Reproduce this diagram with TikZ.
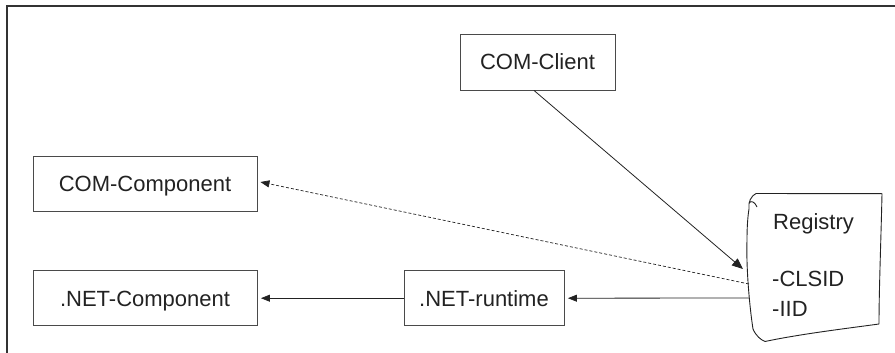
\documentclass[tikz,border=0pt]{standalone}
\usepackage{fontspec}
\setmainfont{Liberation Sans}
\usetikzlibrary{arrows.meta}
\definecolor{edge}{HTML}{4A4A4A}
\definecolor{ink}{HTML}{222222}
\tikzset{
  compbox/.style={draw=edge, line width=0.9pt, rectangle, inner sep=0pt,
    text=ink, font=\fontsize{22}{26}\selectfont, text height=15.8pt, text depth=0pt},
  regtext/.style={text=ink, font=\fontsize{22}{26}\selectfont, inner sep=0pt, anchor=base west},
  conn/.style={draw=ink, line width=0.8pt, -{Triangle[length=9pt,width=7pt]}},
  bigconn/.style={draw=ink, line width=0.8pt, -{Triangle[length=11pt,width=9pt]}},
  dashconn/.style={conn, dash pattern=on 3pt off 2pt, line width=0.7pt},
  frameline/.style={draw=black!80, line width=1.2pt},
  regline/.style={draw=ink, line width=0.9pt, line join=round}
}
\begin{document}
\begin{tikzpicture}[x=1pt,y=-1pt]
\useasboundingbox (0,0) rectangle (895,353);
% frame
\coordinate (ftr) at (895,6);
\coordinate (ftl) at (7,6);
\coordinate (fbl) at (7,353);
\draw[frameline] (ftr) -- (ftl) -- (fbl);
% boxes
\node[compbox, minimum width=155pt, minimum height=56pt] (client) at (537.5,62) {COM-Client};
\node[compbox, minimum width=224pt, minimum height=55pt] (comcomp) at (145,184) {COM-Component};
\node[compbox, minimum width=224pt, minimum height=55pt] (netcomp) at (145,298.2) {.NET-Component};
\node[compbox, minimum width=160pt, minimum height=55pt] (runtime) at (484,298.2) {.NET-runtime};
% registry sheet
\draw[regline] (756,193.5) -- (882,193.7)
  .. controls (881,240) and (879,290) .. (879,324)
  .. controls (850,328) and (800,334) .. (765,341.5)
  .. controls (761,340) and (756,336) .. (753,329)
  .. controls (750,310) and (746,270) .. (747,240)
  .. controls (747,225) and (748,215) .. (749,209)
  .. controls (748,202) and (751,196) .. (756,193.5);
\draw[regline] (749,203) .. controls (751,200) and (755,202) .. (757,207);
\node[regtext] (regtitle) at (773,229.3) {Registry};
\node[regtext] (regclsid) at (772,286) {-CLSID};
\node[regtext] (regiid) at (772,316) {-IID};
\coordinate (regA) at (743,269);
\coordinate (regB) at (749,284);
\coordinate (regC) at (749,298);
% connectors
\draw[bigconn] ([xshift=-3.5pt]client.south) -- (regA);
\draw[dashconn] (regB) -- ([xshift=3pt,yshift=2pt]comcomp.east);
\draw[conn] (regC) -- ([xshift=3.5pt]runtime.east);
\draw[conn] (runtime.west) -- ([xshift=3.5pt]netcomp.east);
\end{tikzpicture}
\end{document}
